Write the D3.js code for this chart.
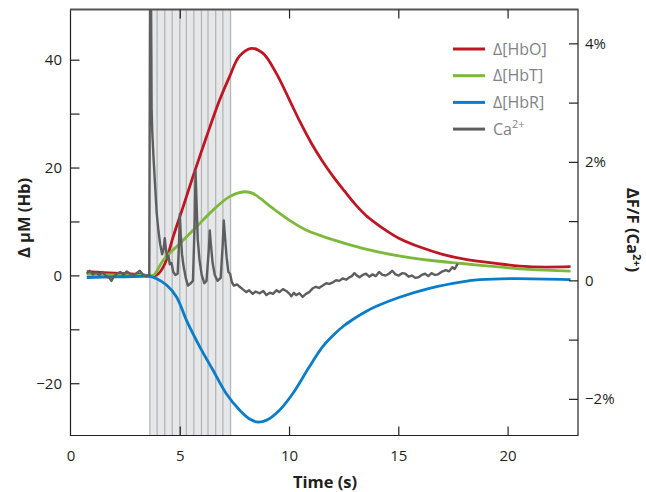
<!DOCTYPE html>
<html>
<head>
<meta charset="utf-8">
<script src="https://cdn.jsdelivr.net/npm/d3@7"></script>
<style>
  body { margin: 0; background: #fff; }
  text { font-family: "Open Sans", "Noto Sans", sans-serif; }
</style>
</head>
<body>
<svg id="chart" width="646" height="492"></svg>
<script>
// stimulation pulses (s)
var stimTimes = [3.61, 3.94, 4.29, 4.63, 4.98, 5.28, 5.62, 5.97, 6.27, 6.62, 6.95, 7.3];

// hemoglobin changes, [time s, µM]
var hbo = [[0.72,0.8],[1.5,0.6],[2.5,0.4],[3.3,0.2],[3.6,0.0],[3.8,0.0],[4.0,0.4],[4.3,2.3],[4.67,7.2],
  [5.13,12.8],[5.58,18.4],[6.2,25.8],[6.8,32.6],[7.26,37],[7.7,40.7],[8.25,42.2],[8.78,41.3],[9.39,37.6],
  [10.0,32.6],[10.5,28.4],[11.0,24.6],[11.5,21.3],[12.0,18.4],[12.5,15.8],[13.0,13.3],[13.5,11.2],
  [14.0,9.6],[14.5,8.2],[15.0,7.0],[16.0,5.3],[17.0,4.0],[18.0,3.1],[19.44,2.3],[20.96,1.7],[22.86,1.7]];
var hbt = [[0.72,0.3],[2,0.2],[3.3,0.1],[3.6,0],[3.8,0.2],[4.22,2.9],[4.98,6.0],[5.74,9.1],[6.5,12.2],
  [7.26,14.7],[7.95,15.6],[8.32,15.3],[9.24,12.5],[10.0,10.3],[10.76,8.5],[11.83,6.9],[13.35,5.1],
  [14.87,3.8],[16.4,2.9],[17.9,2.3],[19.44,1.7],[20.96,1.2],[22.86,0.9]];
var hbr = [[0.72,-0.3],[2,-0.2],[3.3,-0.1],[3.6,-0.1],[3.9,-0.5],[4.37,-1.7],[4.83,-3.9],[5.28,-8.2],
  [5.9,-13.2],[6.5,-17.5],[7.1,-21.8],[7.72,-24.9],[8.2,-26.6],[8.55,-27.1],[8.93,-26.8],[9.54,-24.9],
  [10.15,-21.8],[10.9,-16.9],[11.5,-13.2],[12.0,-11.0],[12.5,-9.2],[13.0,-7.8],[13.5,-6.6],[14.0,-5.6],
  [15.0,-4.0],[16.4,-2.3],[17.9,-1.1],[18.7,-0.7],[20.2,-0.5],[22.86,-0.7]];

// calcium fluorescence, [time s, dF/F %]
var ca = [[0.72,0.12],[0.85,0.17],[1.0,0.11],[1.15,0.14],[1.3,0.10],[1.45,0.15],[1.6,0.08],[1.75,0.05],
  [1.85,0.0],[1.95,0.07],[2.1,0.12],[2.25,0.15],[2.4,0.10],[2.55,0.16],[2.7,0.12],[2.85,0.09],[3.0,0.13],
  [3.15,0.17],[3.3,0.10],[3.45,0.08],[3.58,0.10],
  [3.62,5.2],[3.66,5.0],[3.69,2.9],[3.72,2.5],[3.78,2.05],[3.85,1.6],[3.92,1.15],[4.0,0.85],[4.08,0.62],
  [4.17,0.45],[4.24,0.55],[4.29,0.72],[4.34,0.55],[4.4,0.38],[4.46,0.42],[4.52,0.28],[4.6,0.30],[4.68,0.15],
  [4.78,0.10],[4.88,0.12],[4.94,0.6],[4.98,1.13],[5.02,0.8],[5.08,0.45],[5.15,0.25],[5.25,0.05],[5.35,-0.08],
  [5.45,-0.05],[5.58,0.0],[5.66,1.0],[5.70,1.85],[5.74,1.4],[5.8,0.7],[5.88,0.35],[5.98,0.1],[6.1,-0.04],
  [6.2,0.0],[6.3,0.5],[6.35,0.85],[6.4,0.62],[6.48,0.3],[6.58,0.1],[6.7,0.0],[6.85,0.05],[6.94,0.6],
  [6.99,1.02],[7.04,0.78],[7.12,0.4],[7.2,0.15],[7.28,0.12],[7.36,-0.02],
  [7.45,-0.08],[7.6,-0.06],[7.72,-0.1],[7.85,-0.14],[8.02,-0.19],[8.15,-0.16],[8.32,-0.22],[8.45,-0.18],
  [8.63,-0.21],[8.8,-0.17],[8.94,-0.24],[9.1,-0.2],[9.24,-0.22],[9.4,-0.16],[9.54,-0.19],[9.7,-0.14],
  [9.85,-0.17],[10.0,-0.22],[10.08,-0.26],[10.2,-0.2],[10.3,-0.24],[10.45,-0.21],[10.6,-0.27],[10.75,-0.22],
  [10.9,-0.19],[11.05,-0.13],[11.2,-0.1],[11.35,-0.12],[11.52,-0.08],[11.68,-0.04],[11.83,-0.05],[12.0,-0.02],
  [12.13,0.01],[12.28,0.0],[12.43,0.04],[12.6,0.02],[12.74,0.06],[12.85,0.08],[12.97,0.13],[13.08,0.09],
  [13.2,0.06],[13.35,0.1],[13.5,0.12],[13.65,0.07],[13.8,0.11],[13.95,0.08],[14.1,0.15],[14.25,0.1],
  [14.4,0.09],[14.55,0.12],[14.7,0.17],[14.85,0.11],[15.0,0.09],[15.15,0.13],[15.3,0.12],[15.45,0.07],
  [15.6,0.09],[15.75,0.05],[15.9,0.06],[16.05,0.1],[16.2,0.12],[16.35,0.08],[16.5,0.13],[16.65,0.1],
  [16.8,0.11],[16.95,0.15],[17.15,0.18],[17.3,0.16],[17.45,0.23],[17.55,0.2],[17.7,0.29]];

var xTicks = [5, 10, 15, 20];
var xLabels = [0, 5, 10, 15, 20];
var yTicks = [-20, -10, 0, 10, 20, 30, 40];
var yLabels = [-20, 0, 20, 40];
var caTicks = [-2, -1, 0, 1, 2, 3, 4];
var caLabels = [-2, 2, 4, 0];

var legendNames = ['Δ[HbO]', 'Δ[HbT]', 'Δ[HbR]', 'Ca'];
var colors = ['#be1622', '#7cb83a', '#0a7dc8', '#5e5e5e'];

var svg = d3.select('#chart');
var margin = { top: 9.5, bottom: 56.5, left: 70.5, right: 68 };
var width = 646, height = 492;
var x0 = margin.left, x1 = width - margin.right;
var y0 = height - margin.bottom, y1 = margin.top;

var x = d3.scaleLinear().domain([0, 23.2]).range([x0 + 0.5, x1]);
var y = d3.scaleLinear().domain([-29.6, 49.4]).range([y0, y1]);
var yCa = d3.scaleLinear().domain([-2.61, 4.58]).range([y0, y1]);

svg.append('defs').append('clipPath').attr('id', 'clip')
  .append('rect').attr('x', x0).attr('y', y1).attr('width', x1 - x0).attr('height', y0 - y1);

var plot = svg.append('g').attr('clip-path', 'url(#clip)');

// stimulation band
plot.append('rect')
  .attr('x', x(d3.min(stimTimes))).attr('y', y1)
  .attr('width', x(d3.max(stimTimes)) - x(d3.min(stimTimes)))
  .attr('height', y0 - y1)
  .attr('fill', '#e6e7e9');
plot.selectAll('.stim').data(stimTimes).enter().append('line')
  .attr('x1', d => x(d)).attr('x2', d => x(d))
  .attr('y1', y1).attr('y2', y0)
  .attr('stroke', '#b4b6b8').attr('stroke-width', 1.3);

var hbLine = d3.line().x(d => x(d[0])).y(d => y(d[1])).curve(d3.curveCatmullRom.alpha(0.5));
[hbo, hbt, hbr].forEach(function (s, i) {
  plot.append('path').datum(s)
    .attr('d', hbLine)
    .attr('fill', 'none')
    .attr('stroke', colors[i])
    .attr('stroke-width', 2.8);
});

var caLine = d3.line().x(d => x(d[0])).y(d => yCa(d[1]));
plot.append('path').datum(ca)
  .attr('d', caLine)
  .attr('fill', 'none')
  .attr('stroke', colors[3])
  .attr('stroke-width', 2.4)
  .attr('stroke-linejoin', 'round');

// frame
var frame = svg.append('g').attr('stroke', '#231f20').attr('fill', 'none');
frame.append('line').attr('x1', x0).attr('x2', x0).attr('y1', y1).attr('y2', y0 + 0.5).attr('stroke-width', 1.2);
frame.append('line').attr('x1', x1).attr('x2', x1).attr('y1', y1).attr('y2', y0 + 0.5).attr('stroke-width', 1.2);
frame.append('line').attr('x1', x0).attr('x2', x1).attr('y1', y0).attr('y2', y0).attr('stroke-width', 1.2);
frame.append('line').attr('x1', x0 - 0.5).attr('x2', x1 + 0.5).attr('y1', y1).attr('y2', y1)
  .attr('stroke', '#555').attr('stroke-width', 2);

// ticks
var tickLen = 9;
frame.selectAll('.xt').data(xTicks).enter().append('line')
  .attr('x1', d => x(d)).attr('x2', d => x(d)).attr('y1', y0).attr('y2', y0 - tickLen).attr('stroke-width', 1.2);
frame.selectAll('.xtt').data(xTicks).enter().append('line')
  .attr('x1', d => x(d)).attr('x2', d => x(d)).attr('y1', y1).attr('y2', y1 + tickLen).attr('stroke-width', 1.2);
frame.selectAll('.yt').data(yTicks).enter().append('line')
  .attr('x1', x0).attr('x2', x0 + tickLen).attr('y1', d => y(d)).attr('y2', d => y(d)).attr('stroke-width', 1.2);
frame.selectAll('.ct').data(caTicks).enter().append('line')
  .attr('x1', x1).attr('x2', x1 - tickLen).attr('y1', d => yCa(d)).attr('y2', d => yCa(d)).attr('stroke-width', 1.2);

var fmt = d => (d < 0 ? '\u2212' + Math.abs(d) : '' + d);

svg.selectAll('.xl').data(xLabels).enter().append('text')
  .attr('x', d => x(d)).attr('y', 461)
  .attr('text-anchor', 'middle').attr('font-size', 15).attr('fill', '#231f20')
  .text(fmt);
svg.selectAll('.yl').data(yLabels).enter().append('text')
  .attr('x', 62).attr('y', d => y(d) + 5)
  .attr('text-anchor', 'end').attr('font-size', 15).attr('fill', '#231f20')
  .text(fmt);
svg.selectAll('.cl').data(caLabels).enter().append('text')
  .attr('x', 585).attr('y', d => yCa(d) + 5)
  .attr('text-anchor', 'start').attr('font-size', 15).attr('fill', '#231f20')
  .text(d => d === 0 ? '0' : fmt(d) + '%');

// axis titles
svg.append('text')
  .attr('x', 325).attr('y', 488)
  .attr('text-anchor', 'middle').attr('font-size', 16.5).attr('font-weight', 'bold').attr('fill', '#231f20')
  .text('Time (s)');
svg.append('text')
  .attr('transform', 'translate(30,218) rotate(-90)')
  .attr('text-anchor', 'middle').attr('font-size', 16.5).attr('font-weight', 'bold').attr('fill', '#231f20')
  .text('Δ µM (Hb)');
var rt = svg.append('text')
  .attr('transform', 'translate(627,230) rotate(90)')
  .attr('text-anchor', 'middle').attr('font-size', 16.5).attr('font-weight', 'bold').attr('fill', '#231f20');
rt.append('tspan').text('ΔF/F (Ca');
rt.append('tspan').attr('font-size', 11).attr('dy', -6).text('2+');
rt.append('tspan').attr('dy', 6).text(')');

// legend
var legend = svg.append('g');
legendNames.forEach(function (name, i) {
  var ly = 49 + i * 26.7;
  legend.append('line')
    .attr('x1', 453).attr('x2', 485).attr('y1', ly).attr('y2', ly)
    .attr('stroke', colors[i]).attr('stroke-width', 3);
  var t = legend.append('text')
    .attr('x', 493).attr('y', ly + 5.5)
    .attr('font-size', 16).attr('fill', '#808285')
    .text(name);
  if (name === 'Ca') {
    t.append('tspan').attr('font-size', 11).attr('dy', -7).text('2+');
  }
});
</script>
</body>
</html>
